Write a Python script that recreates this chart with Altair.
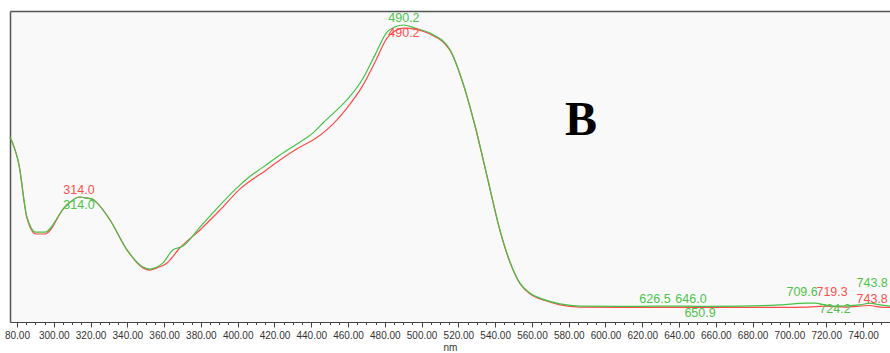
import altair as alt
import pandas as pd

# ---- data (arbitrary absorbance units) ----
nm_green = [276.2, 281.1, 285.4, 290.3, 295.2, 306.1, 314.0, 317.0, 320.8, 323.5,
            330.6, 339.8, 348.5, 352.3, 356.1, 359.4, 364.8, 370.3, 379.5, 390.4,
            401.3, 405.6, 413.8, 423.0, 433.9, 441.0, 446.4, 454.0, 459.4, 467.6,
            474.7, 481.2, 485.5, 490.2, 496.4, 504.6, 515.5, 522.0, 529.0, 536.1,
            542.6, 548.1, 553.5, 558.9, 567.1, 575.3, 586.1, 607.9, 626.5,
            646.0, 650.9, 673.2, 694.9, 709.6, 714.0, 719.4, 724.2, 738.4, 743.8,
            749.3, 754.7]
abs_green = [0.595, 0.505, 0.338, 0.289, 0.289, 0.370, 0.402, 0.399, 0.395, 0.383,
             0.328, 0.232, 0.177, 0.170, 0.177, 0.190, 0.232, 0.244, 0.305, 0.376,
             0.441, 0.463, 0.498, 0.537, 0.579, 0.608, 0.640, 0.682, 0.714, 0.778,
             0.859, 0.932, 0.949, 0.955, 0.945, 0.929, 0.875, 0.778, 0.633, 0.457,
             0.296, 0.193, 0.125, 0.093, 0.071, 0.058, 0.051, 0.050, 0.051,
             0.051, 0.050, 0.051, 0.055, 0.061, 0.061, 0.055, 0.051, 0.055, 0.061,
             0.055, 0.051]

nm_red = [276.2, 281.1, 285.4, 290.3, 295.2, 306.1, 314.0, 317.0, 320.8, 323.5,
          330.6, 339.8, 348.5, 352.3, 356.1, 361.6, 368.5, 379.5, 390.4, 401.3,
          415.6, 423.0, 433.9, 441.0, 454.0, 459.4, 467.6, 474.7, 481.2, 485.5,
          490.2, 496.4, 504.6, 515.5, 522.0, 529.0, 536.1, 542.6, 548.1,
          553.5, 558.9, 567.1, 575.3, 586.1, 607.9, 626.5, 651.4, 673.2, 694.9,
          710.0, 719.3, 730.0, 743.8, 749.3, 754.7]
abs_red = [0.595, 0.505, 0.334, 0.283, 0.283, 0.370, 0.402, 0.399, 0.395, 0.383,
           0.328, 0.232, 0.174, 0.167, 0.174, 0.190, 0.238, 0.296, 0.360, 0.428,
           0.489, 0.521, 0.563, 0.585, 0.650, 0.688, 0.756, 0.836, 0.913, 0.936,
           0.945, 0.942, 0.926, 0.873, 0.776, 0.631, 0.455, 0.294, 0.191,
           0.123, 0.091, 0.069, 0.055, 0.048, 0.047, 0.047, 0.047, 0.047, 0.047,
           0.048, 0.051, 0.048, 0.053, 0.048, 0.047]

# peak annotations: text, series, anchor wavelength, anchor level
peak_text = ["314.0", "314.0", "490.2", "490.2", "626.5", "646.0", "650.9",
             "709.6", "719.3", "724.2", "743.8", "743.8"]
peak_series = ["red", "green", "green", "red", "green", "green", "green",
               "green", "red", "green", "green", "red"]
peak_nm = [313.7, 313.7, 490.4, 490.4, 626.9, 646.5, 651.4,
           706.9, 723.2, 724.8, 745.0, 745.0]
peak_level = [0.424, 0.376, 0.977, 0.929, 0.074, 0.074, 0.029,
              0.096, 0.096, 0.042, 0.125, 0.074]

panel_letter = ["B"]
panel_nm = [586.7]
panel_level = [0.601]

tick_values = list(range(280, 755, 5))

X_DOMAIN = [276.2, 754.7]
Y_DOMAIN = [0, 1]

green_df = pd.DataFrame({"nm": nm_green, "a": abs_green})
red_df = pd.DataFrame({"nm": nm_red, "a": abs_red})
lab_df = pd.DataFrame({"t": peak_text, "s": peak_series, "nm": peak_nm, "a": peak_level})
letter_df = pd.DataFrame({"t": panel_letter, "nm": panel_nm, "a": panel_level})

xscale = alt.Scale(domain=X_DOMAIN, nice=False, zero=False)
yscale = alt.Scale(domain=Y_DOMAIN, nice=False, zero=False)

bottom_axis = alt.Axis(
    values=tick_values,
    title="nm",
    titleFontSize=10,
    titleFontWeight="normal",
    titleFont="Liberation Sans",
    titleColor="#333333",
    titlePadding=2,
    labelFont="Liberation Sans",
    labelFontSize=10,
    labelColor="#333333",
    labelPadding=3,
    labelOverlap=False,
    labelFlush=False,
    labelExpr="datum.value % 20 === 0 ? (datum.value === 280 ? '80.00' : format(datum.value, '.2f')) : ''",
    tickSize={"condition": {"test": "datum.value % 20 === 0", "value": 5}, "value": 2.5},
    tickColor="#444444",
    domainColor="#444444",
    domainWidth=1,
    grid=False,
)

top_axis = alt.Axis(orient="top", labels=False, ticks=False, title=None, grid=False,
                    domainColor="#555555", domainWidth=1.5)
left_axis = alt.Axis(labels=False, ticks=False, title=None, grid=False,
                     domainColor="#555555", domainWidth=1.5)

red_line = alt.Chart(red_df).mark_line(color="#ff4a4a", strokeWidth=1.2,
                                       interpolate="monotone").encode(
    x=alt.X("nm:Q", scale=xscale, axis=bottom_axis),
    y=alt.Y("a:Q", scale=yscale, axis=left_axis),
)

green_line = alt.Chart(green_df).mark_line(color="#45c245", strokeWidth=1.2,
                                           interpolate="monotone").encode(
    x=alt.X("nm:Q", scale=xscale, axis=None),
    y=alt.Y("a:Q", scale=yscale, axis=None),
)

labels = alt.Chart(lab_df).mark_text(font="Liberation Sans", fontSize=12.5,
                                     baseline="middle", align="center").encode(
    x=alt.X("nm:Q", scale=xscale, axis=top_axis),
    y=alt.Y("a:Q", scale=yscale, axis=None),
    text="t:N",
    color=alt.Color("s:N", scale=alt.Scale(domain=["green", "red"],
                                           range=["#4cc44c", "#ff5050"]), legend=None),
)

letter = alt.Chart(letter_df).mark_text(font="Liberation Serif", fontSize=48,
                                        fontWeight="bold", color="#000000",
                                        baseline="alphabetic", align="center").encode(
    x=alt.X("nm:Q", scale=xscale, axis=None),
    y=alt.Y("a:Q", scale=yscale, axis=None),
    text="t:N",
)

chart = alt.layer(red_line, green_line, labels, letter).resolve_axis(
    x="independent", y="independent"
).properties(
    width=880,
    height=311,
    autosize=alt.AutoSizeParams(type="none"),
    padding={"left": 10, "top": 11, "right": 0, "bottom": 31},
    background="#ffffff",
).configure_view(
    strokeWidth=0,
    fill="#f9f9f9",
)

chart.save("out.html", embed_options={"renderer": "svg", "actions": False})
